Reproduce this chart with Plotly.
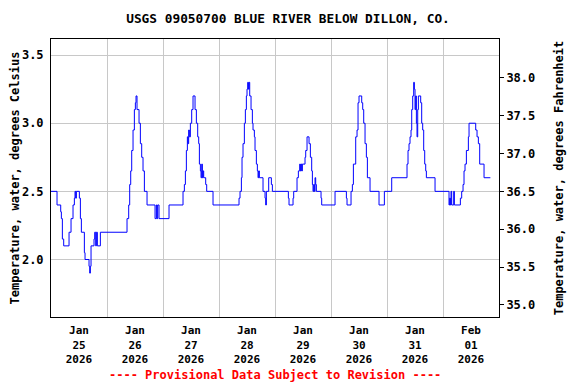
import pandas as pd
import plotly.graph_objects as go

# ---- data ----
# hours since 2026-01-25 00:00 at which the reading changes, and the reading (deg C)
hours = [0, 2.58, 4.16, 4.44, 4.87, 5.44, 7.73, 8.59, 9.44, 10.01, 10.30, 10.59, 10.87,
         12.16, 12.59, 13.01, 14.30, 14.59, 16.30, 16.59, 16.87, 17.16, 18.44, 18.73,
         19.16, 19.44, 19.87, 21.16,
         32.58, 33.30, 33.73, 34.16, 34.59, 35.16, 35.73, 36.16, 36.44, 36.87, 37.73,
         38.30, 38.87, 39.44, 40.02, 41.16, 44.59, 45.16, 45.44, 45.73, 46.30, 50.58,
         56.58, 57.16, 57.59, 58.01, 58.44, 58.73, 59.0, 59.3, 59.73, 60.30, 60.87,
         61.73, 62.30, 62.87, 63.30, 63.59, 64.02, 64.3, 64.6, 64.87, 65.16, 65.44,
         66.30, 66.73, 69.44, 80.58, 81.01, 81.59, 81.87, 82.30, 82.87, 83.30, 83.73,
         84.01, 84.30, 84.59, 84.87, 85.16, 85.73, 86.30, 86.58, 87.16, 87.44, 88.01,
         88.44, 88.73, 89.0, 89.30, 90.87, 91.73, 92.01, 92.3, 93.30, 94.44, 94.87,
         101.73, 102.01, 103.73, 104.01, 105.44, 106.01, 106.59, 106.87, 107.16,
         107.44, 107.73, 108.87, 109.16, 109.73, 110.59, 111.16, 111.73, 112.02,
         112.30, 112.6, 112.87, 113.16, 113.44, 113.73, 115.73, 116.01, 121.73,
         126.59, 126.87, 128.59, 129.16, 129.59, 130.59, 131.16, 131.59, 132.01,
         133.16, 133.59, 134.02, 134.59, 135.16, 135.59, 136.73, 140.58, 142.87,
         146.02, 152.58, 153.01, 153.44, 153.87, 154.30, 154.59, 155.02, 155.44,
         155.73, 156.01, 156.30, 156.59, 156.87, 157.16, 157.44, 158.44, 158.87,
         159.30, 159.73, 160.16, 160.59, 160.87, 164.59, 170.58, 170.87, 171.16,
         171.44, 171.73, 172.59, 172.87, 175.44, 176.01, 176.59, 177.01, 177.44,
         178.02, 178.87, 179.16, 182.02, 182.59, 183.16, 183.73, 185.59, 188.3]
temps_c = [2.5, 2.4, 2.35, 2.3, 2.15, 2.1, 2.2, 2.3, 2.4, 2.45, 2.5, 2.45, 2.5,
           2.45, 2.3, 2.2, 2.05, 2.0, 1.95, 1.9, 1.95, 2.1, 2.15, 2.2,
           2.1, 2.2, 2.1, 2.2,
           2.3, 2.4, 2.55, 2.65, 2.8, 2.95, 3.1, 3.15, 3.2, 3.1, 3.0,
           2.85, 2.75, 2.65, 2.5, 2.4, 2.3, 2.4, 2.3, 2.4, 2.3, 2.4,
           2.5, 2.55, 2.65, 2.8, 2.9, 2.85, 2.95, 2.9, 3.0, 3.1, 3.2,
           3.1, 3.0, 2.9, 2.85, 2.7, 2.65, 2.6, 2.7, 2.6, 2.65, 2.6,
           2.55, 2.5, 2.4, 2.45, 2.5, 2.6, 2.75, 2.85, 3.0, 3.1, 3.2,
           3.25, 3.3, 3.25, 3.3, 3.2, 3.1, 3.0, 2.95, 2.9, 2.8, 2.7,
           2.65, 2.6, 2.65, 2.6, 2.5, 2.45, 2.4, 2.5, 2.6, 2.55, 2.5,
           2.45, 2.4, 2.45, 2.5, 2.6, 2.65, 2.7, 2.65, 2.7,
           2.65, 2.7, 2.75, 2.8, 2.9, 2.85, 2.75, 2.65, 2.55,
           2.5, 2.55, 2.5, 2.6, 2.55, 2.5, 2.45, 2.4, 2.5,
           2.45, 2.4, 2.5, 2.55, 2.7, 2.9, 2.95, 3.15, 3.2,
           3.15, 3.1, 3.0, 2.85, 2.75, 2.6, 2.5, 2.4, 2.5,
           2.6, 2.7, 2.8, 2.85, 2.9, 2.95, 3.1, 3.2, 3.3,
           3.25, 3.1, 3.2, 3.0, 2.9, 3.1, 3.2, 3.15, 3.0,
           2.95, 2.8, 2.7, 2.65, 2.6, 2.5, 2.4, 2.45, 2.4,
           2.5, 2.4, 2.5, 2.4, 2.45, 2.5, 2.55, 2.65, 2.7,
           2.8, 2.9, 3.0, 2.95, 2.9, 2.85, 2.7, 2.6, 2.6]

start_date = "2026-01-25"
end_date = "2026-02-02"
tick_dates = ["2026-01-25 12:00", "2026-01-26 12:00", "2026-01-27 12:00", "2026-01-28 12:00",
              "2026-01-29 12:00", "2026-01-30 12:00", "2026-01-31 12:00", "2026-02-01 12:00"]
tick_labels = ["Jan<br>25<br>2026", "Jan<br>26<br>2026", "Jan<br>27<br>2026", "Jan<br>28<br>2026",
               "Jan<br>29<br>2026", "Jan<br>30<br>2026", "Jan<br>31<br>2026", "Feb<br>01<br>2026"]
c_ticks = [2.0, 2.5, 3.0, 3.5]
f_ticks = [35.0, 35.5, 36.0, 36.5, 37.0, 37.5, 38.0]
c_range = [1.578, 3.618]

title_text = "USGS 09050700 BLUE RIVER BELOW DILLON, CO."
left_title = "Temperature, water, degrees Celsius"
right_title = "Temperature, water, degrees Fahrenheit"
footer_text = "---- Provisional Data Subject to Revision ----"

# ---- figure ----
base = pd.Timestamp(start_date)
times = base + pd.to_timedelta(hours, unit="h")
f_range = [c * 1.8 + 32 for c in c_range]

FONT = "DejaVu Sans Mono"
# the page body has an 8px default margin, so the figure is sized to fill the
# remaining 568x376 of the 576x384 window
W, H = 568, 376
L, R, T, B = 43, 77, 31, 67
PLOT_H = H - T - B

fig = go.Figure()
fig.add_trace(go.Scatter(x=times, y=temps_c, mode="lines", line_shape="hv",
                         line=dict(color="#0000FF", width=1), showlegend=False,
                         hoverinfo="skip"))
# invisible trace for the Fahrenheit axis
fig.add_trace(go.Scatter(x=[times[0]], y=[temps_c[0] * 1.8 + 32], yaxis="y2",
                         mode="markers", marker=dict(opacity=0), showlegend=False,
                         hoverinfo="skip"))

fig.update_layout(
    width=W, height=H,
    margin=dict(l=L, r=R, t=T, b=B, pad=0),
    paper_bgcolor="white", plot_bgcolor="white",
    font=dict(family=FONT, size=12, color="black"),
    title=dict(text="<b>" + title_text + "</b>", x=280 / W, xref="container",
               xanchor="center", y=1 - 11 / H, yref="container", yanchor="middle",
               font=dict(family=FONT, size=12.8, color="black")),
    xaxis=dict(type="date", range=[start_date, end_date],
               tickmode="array", tickvals=tick_dates,
               ticktext=["<b>" + t.replace("<br>", "</b><br><b>") + "</b>" for t in tick_labels],
               ticks="", ticklabelstandoff=3, showgrid=False, zeroline=False,
               showline=True, linecolor="black", linewidth=1, mirror=True,
               tickfont=dict(family=FONT, size=11, color="black"),
               minor=dict(tick0=start_date, dtick=86400000, showgrid=True,
                          gridcolor="#C8C8C8", gridwidth=1, ticks=""),
               automargin=False),
    yaxis=dict(range=c_range, tickmode="array", tickvals=c_ticks,
               ticktext=["<b>%.1f</b>" % v for v in c_ticks],
               showgrid=True, gridcolor="#C8C8C8", gridwidth=1, zeroline=False,
               showline=True, linecolor="black", linewidth=1, mirror=True,
               ticks="", ticklabelstandoff=4,
               tickfont=dict(family=FONT, size=12, color="black"),
               title=dict(text="<b>" + left_title + "</b>", standoff=6,
                          font=dict(family=FONT, size=12, color="black")),
               automargin=False),
    yaxis2=dict(range=f_range, overlaying="y", side="right", anchor="x",
                tickmode="array", tickvals=f_ticks,
                ticktext=["<b>%.1f</b>" % v for v in f_ticks],
                showgrid=False, zeroline=False, ticks="outside", ticklen=4,
                tickcolor="black", tickfont=dict(family=FONT, size=12, color="black"),
                title=dict(text="<b>" + right_title + "</b>", standoff=20,
                           font=dict(family=FONT, size=12, color="black")),
                automargin=False),
    annotations=[dict(text="<b>" + footer_text + "</b>", xref="paper", yref="paper",
                      x=0.5, y=-(367 - (H - B)) / PLOT_H, xanchor="center",
                      yanchor="middle", showarrow=False,
                      font=dict(family=FONT, size=12, color="#FF0000"))],
)

fig.write_html("out.html")
